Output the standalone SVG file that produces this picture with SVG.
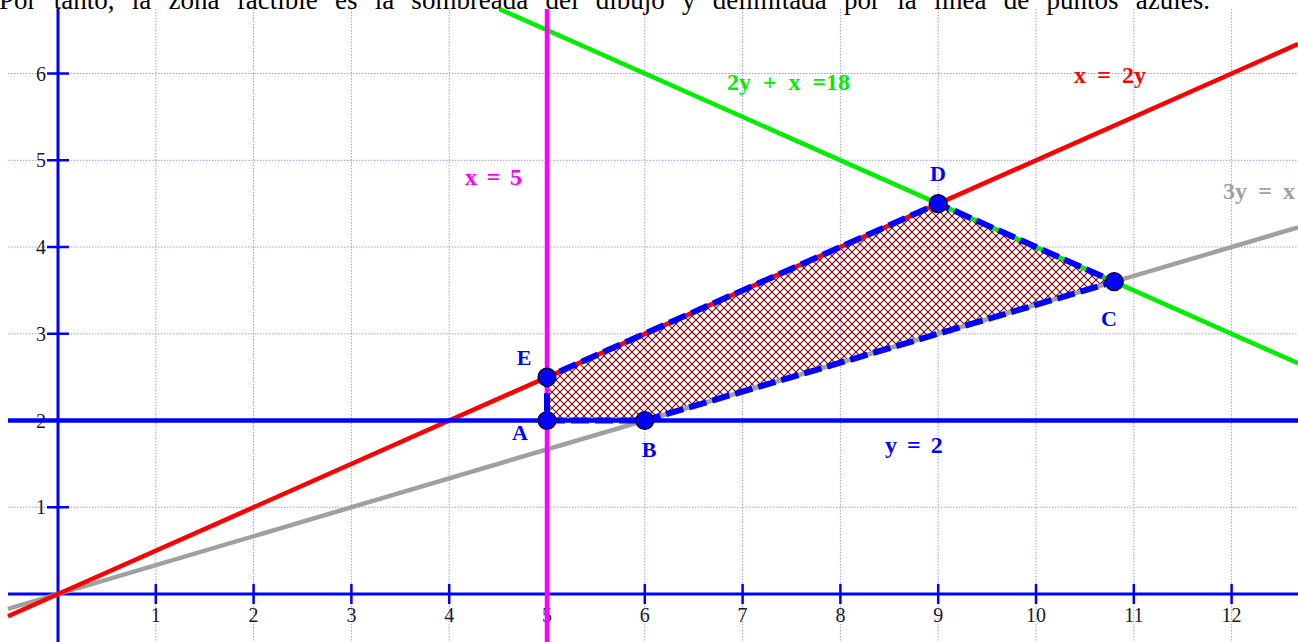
<svg xmlns="http://www.w3.org/2000/svg" width="1298" height="642" viewBox="0 0 1298 642">
<defs>
<pattern id="hatch" patternUnits="userSpaceOnUse" width="8" height="8">
<path d="M0,0 L8,8 M8,0 L0,8" stroke="#800000" stroke-width="1.1" fill="none"/>
</pattern>
<style>
.grid{stroke:#9a9aff;stroke-width:1;stroke-dasharray:1.5,1.5;fill:none}
.axis{stroke:#0000ff;stroke-width:3;fill:none}
.tick{stroke:#0000ff;stroke-width:2.5}
.num{font-family:"Liberation Serif","Times New Roman",serif;font-size:20px;fill:#1a1a1a}
.lbl{font-family:"Liberation Serif","Times New Roman",serif;font-size:24px;font-weight:bold}
.plbl{font-family:"Liberation Serif","Times New Roman",serif;font-size:22px;font-weight:bold;fill:#0000ff}
.pt{fill:#0000ff;stroke:#000;stroke-width:1.2}
.line{fill:none;stroke-width:4.5}
</style>
</defs>
<rect width="1298" height="642" fill="#fff"/>
<text x="-1" y="9" font-family="Liberation Serif, Times New Roman, serif" font-size="27" word-spacing="10.5" fill="#000">Por tanto, la zona factible es la sombreada del dibujo y delimitada por la línea de puntos azules.</text>
<g id="grid">
<path class="grid" d="M155.8,9V642M253.6,9V642M351.4,9V642M449.2,9V642M547,9V642M644.8,9V642M742.6,9V642M840.4,9V642M938.2,9V642M1036,9V642M1133.8,9V642M1231.6,9V642"/>
<path class="grid" d="M8,73.5H1298M8,160.3H1298M8,247H1298M8,333.8H1298M8,420.5H1298M8,507.3H1298"/>
</g>
<g id="axes">
<path class="axis" d="M58,9V642M8,594H1298"/>
<path class="tick" d="M155.8,584V604M253.6,584V604M351.4,584V604M449.2,584V604M547,584V604M644.8,584V604M742.6,584V604M840.4,584V604M938.2,584V604M1036,584V604M1133.8,584V604M1231.6,584V604"/>
<path class="tick" d="M47,73.5H69M47,160.3H69M47,247H69M47,333.8H69M47,420.5H69M47,507.3H69"/>
<g class="num" text-anchor="middle">
<text x="155.8" y="622">1</text><text x="253.6" y="622">2</text><text x="351.4" y="622">3</text><text x="449.2" y="622">4</text><text x="547" y="622">5</text><text x="644.8" y="622">6</text><text x="742.6" y="622">7</text><text x="840.4" y="622">8</text><text x="938.2" y="622">9</text><text x="1036" y="622">10</text><text x="1133.8" y="622">11</text><text x="1231.6" y="622">12</text>
</g>
<g class="num" text-anchor="end">
<text x="46" y="80.5">6</text><text x="46" y="167.3">5</text><text x="46" y="254">4</text><text x="46" y="340.8">3</text><text x="46" y="427.5">2</text><text x="46" y="514.3">1</text>
</g>
</g>
<g id="region">
<polygon points="547,420.5 644.8,420.5 1114.2,281.7 938.2,203.6 547,377.1" fill="url(#hatch)"/>
</g>
<g id="connectors">
<line id="gray-line" class="line" x1="8" y1="608.8" x2="1298" y2="227.4" stroke="#a0a0a0"/>
<line id="red-line" class="line" x1="8" y1="616.2" x2="1298" y2="44.1" stroke="#ff0000"/>
<line id="green-line" class="line" x1="499.4" y1="9" x2="1298" y2="363.2" stroke="#00ee00"/>
<line id="magenta-line" class="line" x1="547" y1="9" x2="547" y2="642" stroke="#ff00ff"/>
<line id="blue-line" class="line" x1="8" y1="420.5" x2="1298" y2="420.5" stroke="#0000ff"/>
<polygon id="boundary" points="547,420.5 644.8,420.5 1114.2,281.7 938.2,203.6 547,377.1" fill="none" stroke="#0000ff" stroke-width="6" stroke-dasharray="18,6" stroke-linejoin="round"/>
</g>
<g id="A"><circle class="pt" cx="547" cy="420.5" r="9"/><text class="plbl" x="520" y="440" text-anchor="middle">A</text></g>
<g id="B"><circle class="pt" cx="644.8" cy="420.5" r="9"/><text class="plbl" x="649" y="457" text-anchor="middle">B</text></g>
<g id="C"><circle class="pt" cx="1114.2" cy="281.7" r="9"/><text class="plbl" x="1109" y="326" text-anchor="middle">C</text></g>
<g id="D"><circle class="pt" cx="938.2" cy="203.6" r="9"/><text class="plbl" x="938" y="181" text-anchor="middle">D</text></g>
<g id="E"><circle class="pt" cx="547" cy="377.1" r="9"/><text class="plbl" x="524" y="365" text-anchor="middle">E</text></g>
<g id="labels">
<text class="lbl" x="465" y="185" fill="#ff00ff" word-spacing="3.6">x = 5</text>
<text class="lbl" x="727" y="90" fill="#00ee00" word-spacing="5.9">2y + x =18</text>
<text class="lbl" x="1074" y="83" fill="#ff0000" word-spacing="5.2">x = 2y</text>
<text class="lbl" x="1223" y="199" fill="#a0a0a0" font-weight="normal" word-spacing="5.2">3y = x</text>
<text class="lbl" x="885" y="453" fill="#0000ff" word-spacing="4">y = 2</text>
</g>
</svg>
